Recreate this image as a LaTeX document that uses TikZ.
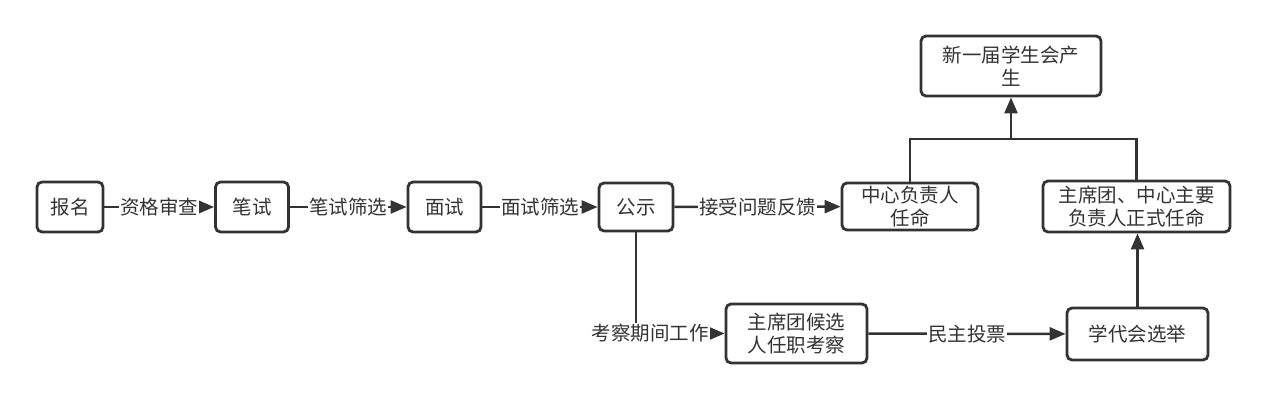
\documentclass[tikz,border=0pt]{standalone}
\usepackage{fontspec}
\setmainfont{Noto Sans CJK SC}
\usepackage{tikz}
\usetikzlibrary{arrows.meta}
\definecolor{ink}{HTML}{333333}

\begin{document}
\begin{tikzpicture}[x=1pt, y=-1pt,
  box/.style={draw=ink, line width=2.8pt, rounded corners=5pt, fill=white, text=ink,
    align=center, inner sep=0pt, font=\fontsize{19.5}{23}\selectfont},
  line/.style={draw=ink, line width=2.5pt},
  arrow/.style={line, -{Triangle[length=16pt, width=13pt]}},
  lbl/.style={fill=white, text=ink, inner sep=1pt, font=\fontsize{19.5}{23}\selectfont}]
  \useasboundingbox[fill=white] (0,0) rectangle (1268,401);

  % first row
  \node[box, minimum width=66, minimum height=50] (bm) at (70,207) {报名};
  \node[box, minimum width=73, minimum height=50] (bs) at (252,207) {笔试};
  \node[box, minimum width=73, minimum height=50] (ms) at (444.5,207) {面试};
  \node[box, minimum width=74, minimum height=48] (gs) at (636,207) {公示};
  \node[box, minimum width=136, minimum height=47] (zxfz) at (910,206.5) {中心负责人\\任命};
  \node[box, minimum width=187, minimum height=51] (zxzs) at (1136.5,206.5) {主席团、中心主要\\负责人正式任命};
  \node[box, minimum width=180, minimum height=60] (xsh) at (1011,66) {新一届学生会产\\生};

  % second row
  \node[box, minimum width=141, minimum height=59] (hxkc) at (796.5,333.5) {主席团候选\\人任职考察};
  \node[box, minimum width=141, minimum height=52] (xdh) at (1137.5,334) {学代会选举};

  \draw[arrow] (bm) -- node[lbl] {资格审查} (bs);
  \draw[arrow] (bs) -- node[lbl] {笔试筛选} (ms);
  \draw[arrow] (ms) -- node[lbl] {面试筛选} (gs);
  \draw[arrow] (gs) -- node[lbl] {接受问题反馈} (zxfz);

  \draw[arrow] (gs.south) |- node[pos=0.5, lbl, xshift=14] {考察期间工作} (hxkc.west);
  \draw[arrow] (hxkc) -- node[lbl] {民主投票} (xdh);
  \draw[arrow] (xdh.north) -- (xdh.north |- zxzs.south);

  \coordinate (merge) at (1011,139);
  \draw[line] (zxfz.north) |- (merge);
  \draw[line] (zxzs.north) |- (merge);
  \draw[arrow] (merge) -- (xsh.south);
\end{tikzpicture}
\end{document}
